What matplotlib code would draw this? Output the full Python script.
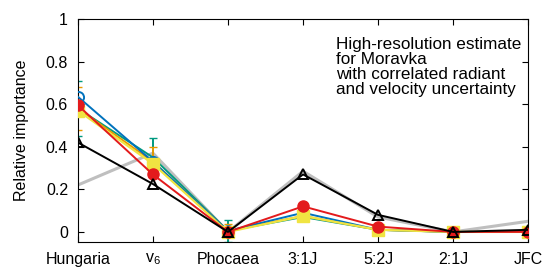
import matplotlib
matplotlib.use('Agg')
import matplotlib.pyplot as plt

plt.rcParams['font.family'] = ['Liberation Sans', 'DejaVu Sans']
plt.rcParams['mathtext.fontset'] = 'custom'
plt.rcParams['mathtext.rm'] = 'Liberation Sans'
plt.rcParams['mathtext.it'] = 'Liberation Sans'

categories = ['Hungaria', 'v$_6$', 'Phocaea', '3:1J', '5:2J', '2:1J', 'JFC']

# series values
green_vals = [0.58, 0.35, 0.005, 0.07, 0.01, 0.0, 0.0]
green_err = [0.13, 0.09, 0.05, 0.02, 0.01, 0.01, 0.01]
orange_vals = [0.58, 0.33, 0.005, 0.075, 0.01, 0.0, 0.0]
orange_err = [0.10, 0.07, 0.03, 0.015, 0.01, 0.01, 0.01]
yellow_vals = [0.57, 0.32, 0.0, 0.075, 0.01, 0.0, 0.0]
blue_vals = [0.635, 0.33, 0.005, 0.09, 0.01, 0.0, 0.0]
red_vals = [0.595, 0.27, 0.0, 0.12, 0.025, 0.0, 0.0]
black_vals = [0.42, 0.225, 0.0, 0.27, 0.08, 0.0, 0.01]
gray_vals = [0.22, 0.37, 0.0, 0.285, 0.07, 0.0, 0.05]

x = list(range(len(categories)))

fig = plt.figure(figsize=(5.48, 2.74), dpi=100)
ax = fig.add_axes([0.142, 0.117, 0.822, 0.814])

ax.errorbar(x, green_vals, yerr=green_err, color='#009a80', lw=1.4, capsize=3, zorder=2)
ax.errorbar(x, orange_vals, yerr=orange_err, color='#e69a00', lw=1.4, capsize=3, zorder=2)
ax.plot(x, blue_vals, color='#0072bd', lw=1.4, marker='o', ms=8, mfc='none', mew=1.4, zorder=3)
ax.plot(x, yellow_vals, color='#f0e442', lw=1.6, marker='s', ms=8.5, mec='#f0e442', zorder=4)
ax.plot(x, red_vals, color='#e31a1c', lw=1.4, marker='o', ms=8, zorder=5)
ax.plot(x, black_vals, color='black', lw=1.4, marker='^', ms=7, mfc='none', mew=1.4, zorder=6)
ax.plot(x, gray_vals, color='#bfbfbf', lw=2.2, zorder=1)

ax.set_xlim(0, 6)
ax.set_ylim(-0.047, 1)
ax.set_xticks(x)
ax.set_xticklabels(categories, fontsize=11.5)
ax.set_yticks([0, 0.2, 0.4, 0.6, 0.8, 1])
ax.set_yticklabels(['0', '0.2', '0.4', '0.6', '0.8', '1'], fontsize=11.5)
ax.tick_params(direction='in', top=True, right=True, length=4, pad=7)
ax.set_ylabel('Relative importance', fontsize=11.5, labelpad=12)

ax.text(0.573, 0.92, 'High-resolution estimate\nfor Moravka\nwith correlated radiant\nand velocity uncertainty',
        transform=ax.transAxes, ha='left', va='top', fontsize=12.3, linespacing=1.0)

plt.savefig('out.png', dpi=100)
plt.close()
